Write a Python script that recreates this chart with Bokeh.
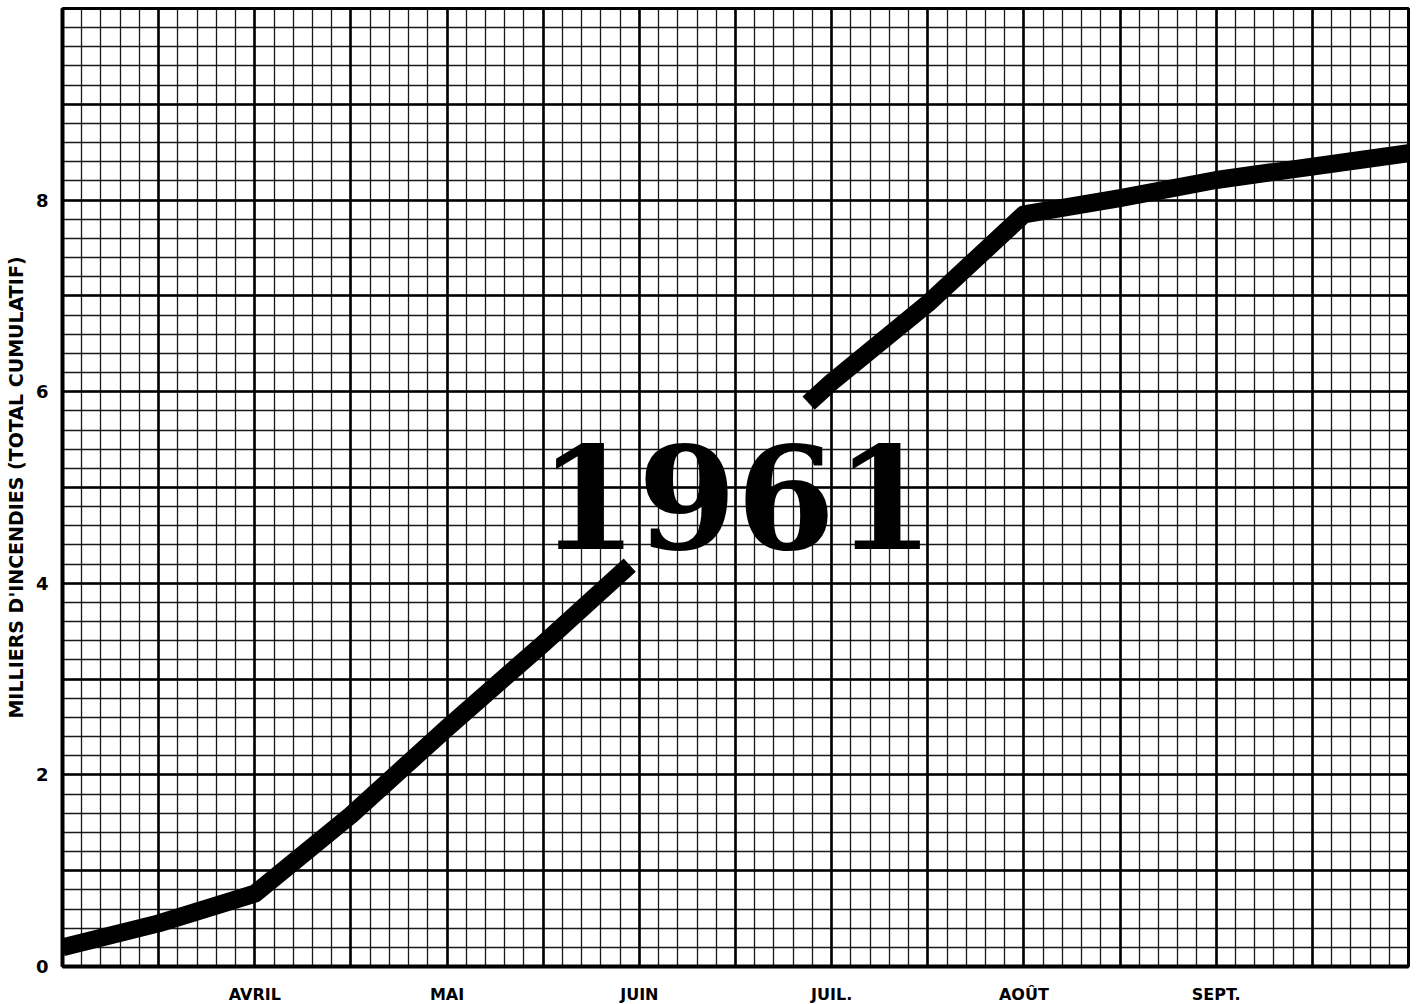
from bokeh.plotting import figure
from bokeh.models import Range1d, FixedTicker
from bokeh.core.properties import value
from bokeh.embed import file_html
from bokeh.resources import INLINE

# x in months from 1 March (0) to 1 October (7)
month_pos = [1, 2, 3, 4, 5, 6]
month_labels = ["AVRIL", "MAI", "JUIN", "JUIL.", "AOÛT", "SEPT."]
y_ticks = [0, 2, 4, 6, 8]

# cumulative fires (thousands), two drawn segments
seg1_x = [0.0, 0.5, 1.0, 1.5, 2.0, 2.5, 2.95]
seg1_y = [0.20, 0.45, 0.76, 1.58, 2.49, 3.37, 4.19]
seg2_x = [3.88, 4.0, 4.5, 5.0, 5.5, 6.0, 6.5, 7.0]
seg2_y = [5.88, 6.10, 6.92, 7.85, 8.02, 8.21, 8.35, 8.49]

year_label = "1961"
year_x, year_y = 3.505, 4.90

x_major = [i * 0.5 for i in range(15)]
x_minor = [i * 0.1 for i in range(71)]
y_major = list(range(11))
y_minor = [i * 0.2 for i in range(51)]

p = figure(frame_width=1346, frame_height=958,
           x_range=Range1d(0, 7), y_range=Range1d(0, 10),
           output_backend="svg", toolbar_location=None,
           min_border_left=62, min_border_top=8, min_border_right=6,
           min_border_bottom=38, background_fill_color="white",
           border_fill_color="white")

# graph-paper grid
p.xgrid.ticker = FixedTicker(ticks=x_major, minor_ticks=x_minor)
p.ygrid.ticker = FixedTicker(ticks=y_major, minor_ticks=y_minor)
for g in (p.xgrid, p.ygrid):
    g.grid_line_color = "black"
    g.grid_line_width = 2.6
    g.grid_line_alpha = 1.0
    g.minor_grid_line_color = "black"
    g.minor_grid_line_width = 1.3
    g.minor_grid_line_alpha = 0.9

p.outline_line_color = "black"
p.outline_line_width = 3

# axes
p.xaxis.ticker = FixedTicker(ticks=month_pos)
p.xaxis.major_label_overrides = {m: l for m, l in zip(month_pos, month_labels)}
p.yaxis.ticker = FixedTicker(ticks=y_ticks)
for ax in (p.xaxis, p.yaxis):
    ax.axis_line_color = "black"
    ax.axis_line_width = 4
    ax.major_tick_line_color = None
    ax.minor_tick_line_color = None
    ax.major_tick_in = 0
    ax.major_tick_out = 0
    ax.minor_tick_in = 0
    ax.minor_tick_out = 0
    ax.major_label_text_font = "DejaVu Sans"
    ax.major_label_text_font_style = "bold"
    ax.major_label_text_color = "black"

p.xaxis.major_label_text_font_size = "16px"
p.xaxis.major_label_standoff = 18
p.yaxis.major_label_text_font_size = "18px"
p.yaxis.major_label_standoff = 14
p.yaxis.axis_label = "MILLIERS D'INCENDIES (TOTAL CUMULATIF)"
p.yaxis.axis_label_text_font = "DejaVu Sans"
p.yaxis.axis_label_text_font_style = "bold"
p.yaxis.axis_label_text_font_size = "19px"
p.yaxis.axis_label_text_color = "black"
p.yaxis.axis_label_standoff = 6

# curve
p.line(seg1_x, seg1_y, line_color="black", line_width=18,
       line_join="round", line_cap="butt")
p.line(seg2_x, seg2_y, line_color="black", line_width=18,
       line_join="round", line_cap="butt")

p.text(x=[year_x], y=[year_y], text=[year_label],
       text_font=value("DejaVu Serif"), text_font_style="bold",
       text_font_size="142px", text_align="center",
       text_baseline="middle", text_color="black")

open("out.html", "w").write(file_html(p, INLINE))
